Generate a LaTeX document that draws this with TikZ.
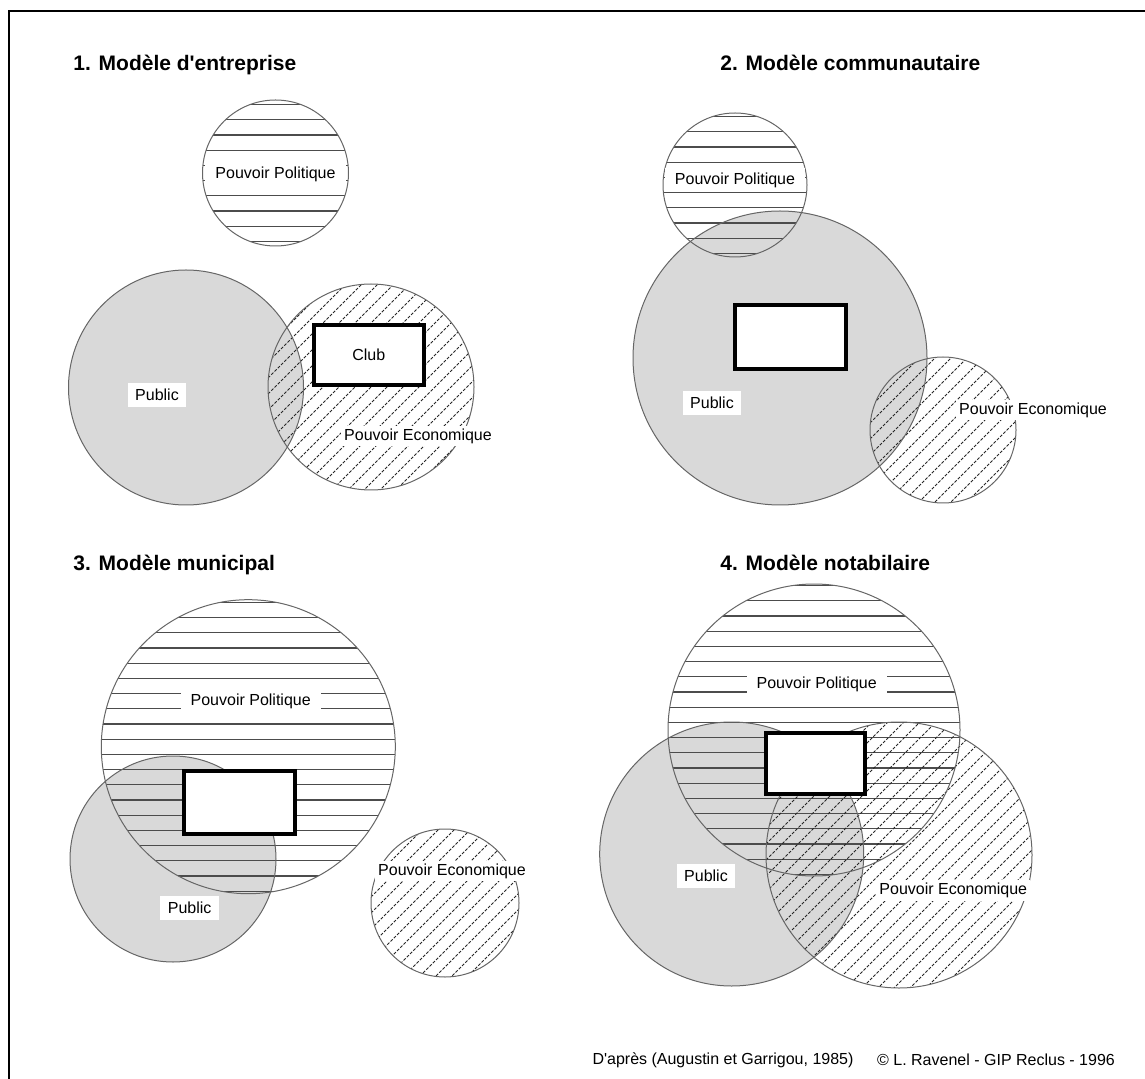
\documentclass[tikz,border=0pt]{standalone}
\usepackage{fontspec}
\setmainfont{Liberation Sans}
\usepackage{tikz}
\usetikzlibrary{positioning}
\tikzset{
  % --- circles ---------------------------------------------------------------
  ring/.style={draw=black!60,line width=0.5pt},
  pubfill/.style={fill=black!15},
  polline/.style={draw=black!70,line width=0.6pt},
  ecoline/.style={draw=black!85,line width=0.5pt,dash pattern=on 1.5pt off 0.8pt},
  % --- boxes and labels ------------------------------------------------------
  club/.style={draw=black,line width=2pt,fill=white,inner sep=0pt,
               font=\fontsize{8}{9}\selectfont},
  pollab/.style={fill=white,inner xsep=5pt,inner ysep=2.5pt,
                 font=\fontsize{8}{9}\selectfont},
  ecolab/.style={fill=white,inner xsep=1.5pt,inner ysep=1.5pt,
                 font=\fontsize{8}{9}\selectfont},
  publab/.style={fill=white,inner xsep=3.8pt,inner ysep=3pt,
                 font=\fontsize{8}{9}\selectfont},
  title/.style={anchor=base west,inner sep=0pt,font=\fontsize{10.5}{12}\selectfont\bfseries},
  note/.style={inner sep=0pt,font=\fontsize{8}{9}\selectfont},
  frame/.style={draw=black,line width=1pt},
}
% horizontal hatching: centre x, centre y, radius
\newcommand{\polhatch}[3]{%
  \begin{scope}
    \clip (#1,#2) circle (#3);
    \foreach \k in {-10,...,9}
      \draw[polline] ({#1-#3},{#2+(\k+0.5)*15.2}) -- ({#1+#3},{#2+(\k+0.5)*15.2});
  \end{scope}}
% dashed diagonal hatching: centre x, centre y, radius
\newcommand{\ecohatch}[3]{%
  \begin{scope}[shift={(#1,#2)}]
    \clip (0,0) circle (#3);
    \foreach \k in {-13,...,13}
      \draw[ecoline] ({-#3},{\k*16+#3}) -- ({#3},{\k*16-#3});
  \end{scope}}

\begin{document}
\begin{tikzpicture}[x=0.5pt, y=-0.5pt]
  \useasboundingbox (0,0) rectangle (1145,1079);
  \draw[frame] (1145,11) -- (9,11) -- (9,1079);

  % titles
  \node[title] (title1) at (73,70.5)   {1. Modèle d\textquotesingle entreprise};
  \node[title] (title2) at (720,70.5)  {2. Modèle communautaire};
  \node[title] (title3) at (73,570.5)  {3. Modèle municipal};
  \node[title] (title4) at (720,570.5) {4. Modèle notabilaire};

  % 1. entreprise
  \fill[pubfill] (186,387.5) circle (117.5);
  \polhatch{275.5}{173}{73}
  \ecohatch{371}{387}{103}
  \draw[ring] (275.5,173) circle (73);
  \draw[ring] (186,387.5) circle (117.5);
  \draw[ring] (371,387) circle (103);
  \node[club,minimum width=55.25pt,minimum height=30pt] (club1) at (368.75,355) {Club};
  \node[pollab] (pol1) at (275.5,174) {Pouvoir Politique};
  \node[ecolab] (eco1) at (418,436) {Pouvoir Economique};
  \node[publab] (pub1) at (157,395) {Public};

  % 2. communautaire
  \fill[pubfill] (780,358) circle (147);
  \polhatch{735}{185}{72}
  \ecohatch{943}{430}{73}
  \draw[ring] (735,185) circle (72);
  \draw[ring] (780,358) circle (147);
  \draw[ring] (943,430) circle (73);
  \node[club,minimum width=55.5pt,minimum height=32pt] (club2) at (790.5,337) {};
  \node[pollab] (pol2) at (735,180) {Pouvoir Politique};
  \node[ecolab] (eco2) at (1033,410) {Pouvoir Economique};
  \node[publab] (pub2) at (712,403) {Public};

  % 3. municipal
  \fill[pubfill] (173,859) circle (103);
  \polhatch{248.3}{746.7}{147}
  \ecohatch{445}{903}{74}
  \draw[ring] (248.3,746.7) circle (147);
  \draw[ring] (173,859) circle (103);
  \draw[ring] (445,903) circle (74);
  \node[club,minimum width=55.5pt,minimum height=31.5pt] (club3) at (239.5,802.5) {};
  \node[pollab] (pol3) at (250.7,701) {Pouvoir Politique};
  \node[ecolab] (eco3) at (452,871) {Pouvoir Economique};
  \node[publab] (pub3) at (189.7,908) {Public};

  % 4. notabilaire
  \fill[pubfill] (731.7,854) circle (132);
  \polhatch{814}{730}{146}
  \ecohatch{899}{855}{133}
  \draw[ring] (814,730) circle (146);
  \draw[ring] (731.7,854) circle (132);
  \draw[ring] (899,855) circle (133);
  \node[club,minimum width=49.5pt,minimum height=30.5pt] (club4) at (815.5,763.5) {};
  \node[pollab] (pol4) at (816.7,684.3) {Pouvoir Politique};
  \node[ecolab] (eco4) at (953.3,890.7) {Pouvoir Economique};
  \node[publab] (pub4) at (706,876) {Public};

  % sources
  \node[note] (src) at (723,1060) {D\textquotesingle après (Augustin et Garrigou, 1985)};
  \node[note] (copy) at (996,1060) {© L. Ravenel - GIP Reclus - 1996};
\end{tikzpicture}
\end{document}
